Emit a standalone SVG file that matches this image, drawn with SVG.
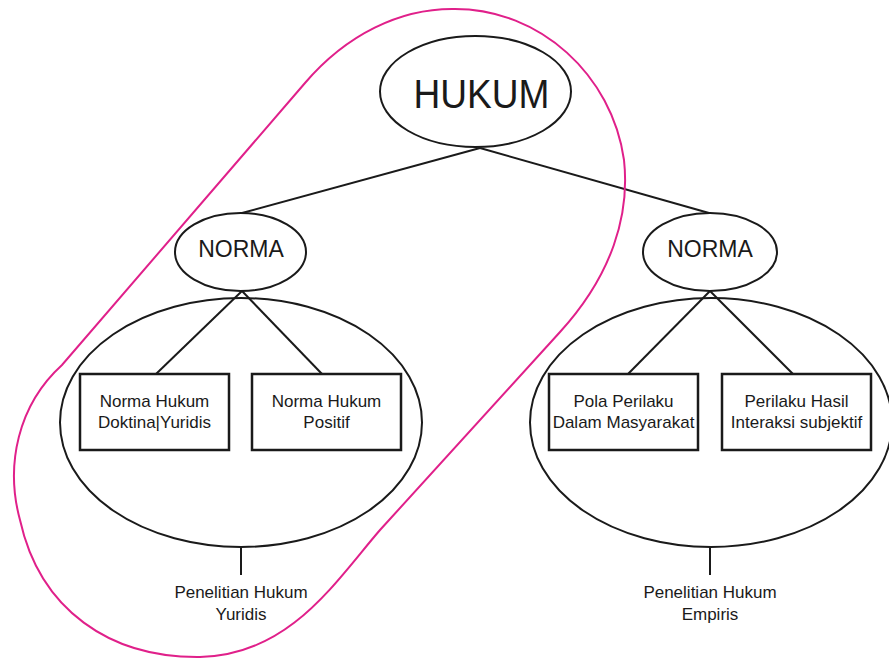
<svg xmlns="http://www.w3.org/2000/svg" width="889" height="659" viewBox="0 0 889 659">
<style>
.shape{fill:none;stroke:#1a1a1a;stroke-width:2}
.box{fill:#fff;stroke:#1a1a1a;stroke-width:2.5}
.edge{fill:none;stroke:#1a1a1a;stroke-width:2}
text{font-family:"Liberation Sans",Arial,sans-serif;fill:#1a1a1a;text-anchor:middle}
.t17{font-size:17px}
.t23{font-size:23px}
.loop{fill:none;stroke:#e0208a;stroke-width:2}
</style>
<rect width="889" height="659" fill="#fff"/>
<g id="connectors">
<line class="edge" x1="480" y1="148" x2="242" y2="213"/>
<line class="edge" x1="480" y1="148" x2="709" y2="213"/>
<line class="edge" x1="242" y1="291" x2="156" y2="374"/>
<line class="edge" x1="242" y1="291" x2="322" y2="374"/>
<line class="edge" x1="710" y1="291" x2="628" y2="374"/>
<line class="edge" x1="710" y1="291" x2="793" y2="374"/>
<line class="edge" x1="241" y1="547" x2="241" y2="575"/>
<line class="edge" x1="710" y1="547" x2="710" y2="575"/>
</g>
<g id="hukum">
<ellipse class="shape" cx="475.5" cy="91.5" rx="95.5" ry="55.5"/>
<text x="481.5" y="108" font-size="40" textLength="136" lengthAdjust="spacingAndGlyphs">HUKUM</text>
</g>
<g id="norma-left">
<ellipse class="shape" cx="240.5" cy="252" rx="65.5" ry="39"/>
<text class="t23" x="241" y="257">NORMA</text>
</g>
<g id="norma-right">
<ellipse class="shape" cx="710" cy="252" rx="67" ry="39"/>
<text class="t23" x="710" y="257">NORMA</text>
</g>
<g id="group-left">
<ellipse class="shape" cx="241" cy="422.5" rx="181" ry="124.5"/>
</g>
<g id="group-right">
<ellipse class="shape" cx="711" cy="422.5" rx="181" ry="124.5"/>
</g>
<g id="box-doktrinal">
<rect class="box" x="80" y="374" width="149" height="76"/>
<text class="t17" x="154.5" y="406.5">Norma Hukum</text>
<text class="t17" x="154.5" y="428">Doktina|Yuridis</text>
</g>
<g id="box-positif">
<rect class="box" x="252" y="374" width="149" height="76"/>
<text class="t17" x="326.5" y="406.5">Norma Hukum</text>
<text class="t17" x="326.5" y="428">Positif</text>
</g>
<g id="box-pola">
<rect class="box" x="549" y="374" width="149" height="76"/>
<text class="t17" x="623.5" y="406.5">Pola Perilaku</text>
<text class="t17" x="623.5" y="428">Dalam Masyarakat</text>
</g>
<g id="box-perilaku">
<rect class="box" x="722" y="374" width="149" height="76"/>
<text class="t17" x="796.5" y="406.5">Perilaku Hasil</text>
<text class="t17" x="796.5" y="428">Interaksi subjektif</text>
</g>
<g id="label-yuridis">
<text class="t17" x="241" y="598">Penelitian Hukum</text>
<text class="t17" x="241" y="620">Yuridis</text>
</g>
<g id="label-empiris">
<text class="t17" x="710" y="598">Penelitian Hukum</text>
<text class="t17" x="710" y="620">Empiris</text>
</g>
<g id="highlight">
<path class="loop" d="M 305,83 C 346,35 400,8 455,9 C 540,9 612,75 624,160 C 630,215 612,275 560,332 L 380,530 C 335,582 290,655 200,657 C 110,658 40,610 20,520 C 5,465 18,405 62,365 Z"/>
</g>
</svg>
